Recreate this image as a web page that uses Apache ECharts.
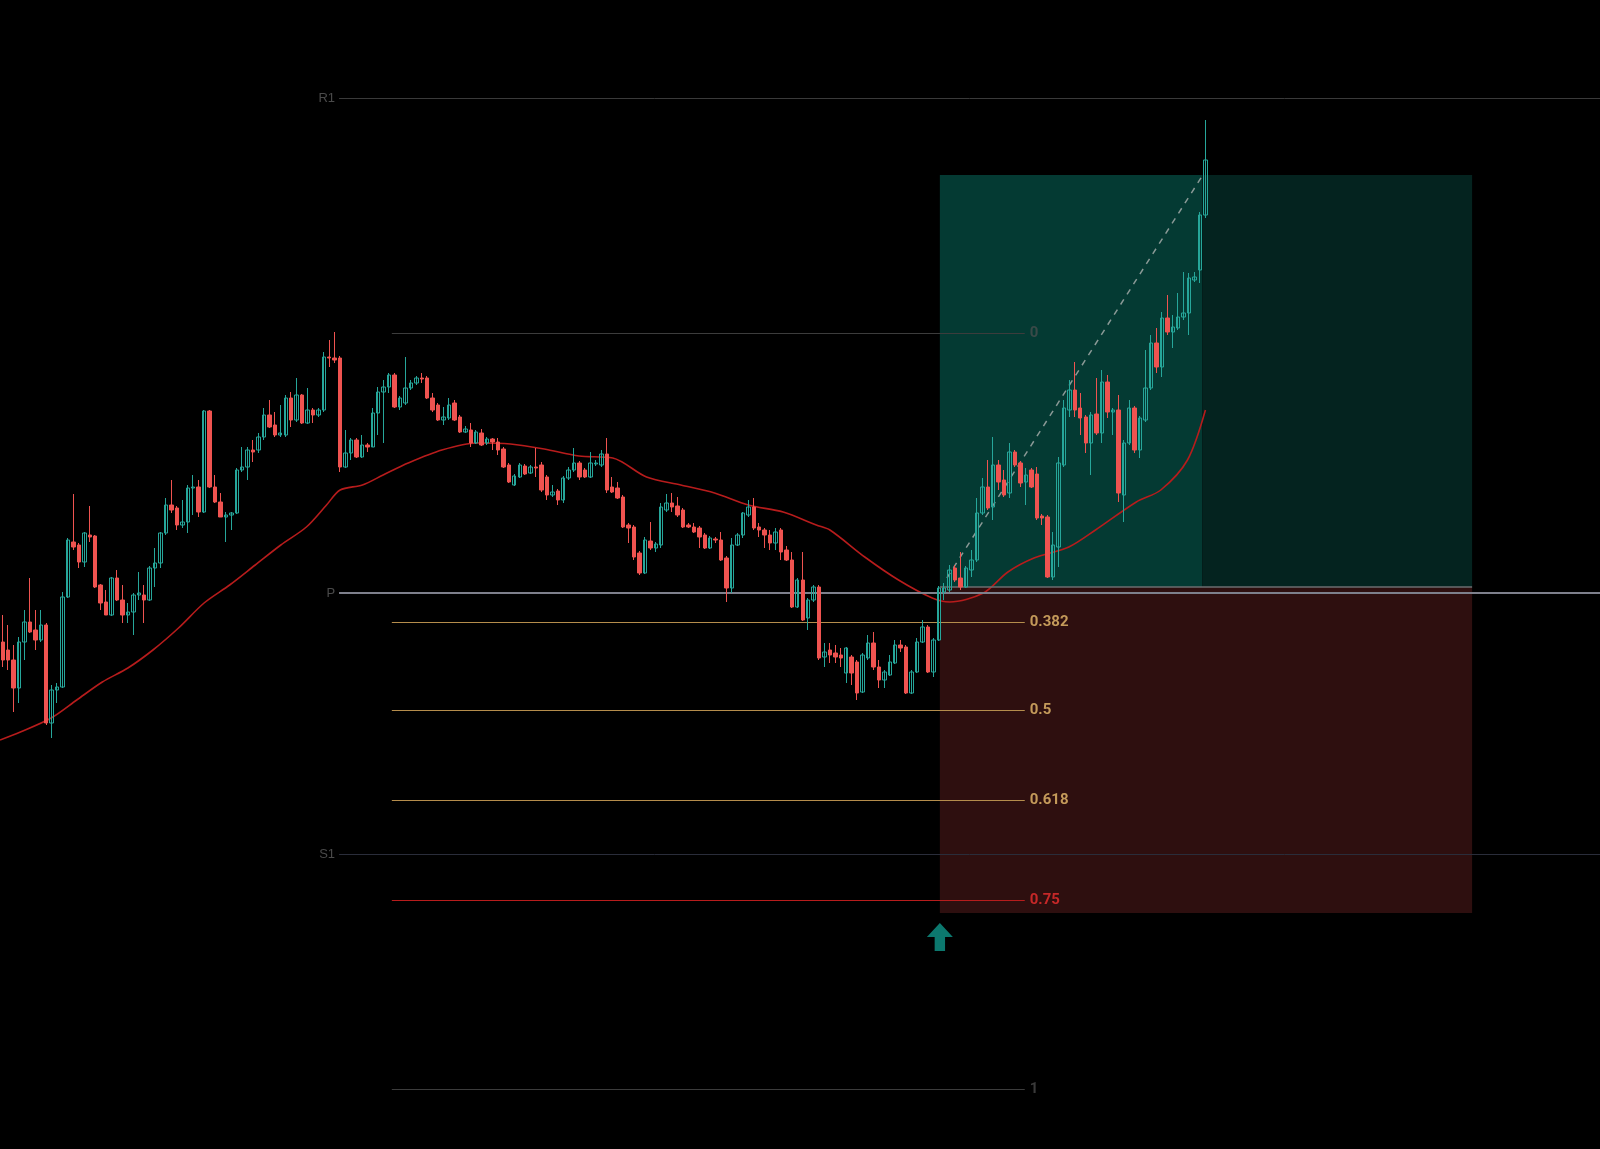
<!DOCTYPE html>
<html>
<head>
<meta charset="utf-8">
<title>Candles</title>
<script src="https://cdn.jsdelivr.net/npm/echarts@6/dist/echarts.min.js"></script>
<style>
  html, body { margin: 0; padding: 0; background: #000; }
  #chart { width: 1600px; height: 1149px; }
</style>
</head>
<body>
<div id="chart"></div>
<script>
// price levels are read in screen units of the reference (axis is inverted)
const slots = 294;
const categories = Array.from({ length: slots }, (_, i) => String(i));

// [open, close, low, high]
const candles = [
  [642,660,667,615],[650,660,670,625],[660,688,712,645],[688,642,703,637],[642,622,660,610],
  [622,632,633,578],[630,640,650,610],[640,625,642,610],[625,723,725,623],[723,690,738,685],
  [690,687,703,683],[687,597,688,592],[597,540,598,538],[542,547,550,494],[545,562,568,543],
  [562,533,567,532],[535,537,542,506],[536,587,588,535],[585,603,610,584],[602,615,615,590],
  [615,578,616,577],[578,600,601,570],[600,615,623,585],[615,612,623,603],[612,595,635,593],
  [595,593,600,572],[595,600,623,585],[600,568,601,566],[568,563,587,548],[563,533,568,532],
  [533,505,535,498],[505,510,513,480],[508,525,530,506],[525,522,528,500],[522,488,533,485],
  [488,487,515,475],[487,512,517,480],[512,411,513,410],[411,487,488,410],[487,502,503,475],
  [502,517,517,493],[517,515,542,512],[515,513,530,512],[513,470,514,468],[470,467,472,447],
  [467,450,480,447],[450,452,462,440],[450,437,453,433],[437,415,440,408],[415,427,428,400],
  [425,435,437,412],[435,433,437,405],[435,398,437,395],[398,420,427,392],[420,395,422,378],
  [395,423,424,394],[423,410,424,388],[410,415,423,408],[415,410,417,408],[410,357,412,352],
  [357,358,367,340],[358,360,363,332],[358,467,472,356],[467,453,468,430],[453,440,460,438],
  [440,457,458,438],[457,445,458,435],[445,447,452,443],[447,413,447,408],[413,392,435,387],
  [392,387,443,380],[387,375,393,373],[375,407,408,373],[407,398,410,396],[403,388,405,357],
  [388,383,390,380],[383,378,385,376],[378,379,383,373],[378,398,399,376],[398,410,412,393],
  [405,420,421,403],[420,417,425,407],[418,405,420,398],[403,420,421,400],[417,432,433,415],
  [432,429,433,426],[430,443,447,423],[443,432,444,430],[433,445,446,429],[443,439,445,437],
  [439,442,450,438],[442,450,455,438],[449,467,468,447],[465,482,483,463],[485,476,486,474],
  [477,465,478,463],[466,474,475,464],[473,467,474,465],[467,468,477,448],[465,490,492,462],
  [477,495,500,475],[495,492,497,485],[491,500,505,489],[500,478,503,476],[478,470,480,467],
  [470,463,472,448],[463,477,480,461],[470,477,478,468],[477,463,478,452],[464,463,466,460],
  [465,454,467,450],[454,490,493,438],[487,492,493,477],[488,498,499,482],[497,527,528,495],
  [525,528,543,523],[527,557,560,525],[553,573,575,551],[573,540,574,537],[541,548,550,522],
  [548,544,552,542],[545,507,548,503],[510,503,512,494],[503,507,512,493],[506,515,517,497],
  [510,527,528,508],[525,527,528,523],[527,532,533,523],[528,537,548,526],[535,548,549,533],
  [548,538,549,536],[539,540,543,537],[540,560,561,532],[558,588,602,556],[588,545,593,538],
  [545,535,546,533],[535,513,538,512],[515,507,517,500],[507,528,530,498],[527,530,537,523],
  [530,535,548,528],[535,543,550,530],[543,532,550,528],[530,552,560,528],[550,560,561,546],
  [560,607,608,552],[607,580,608,578],[580,620,621,552],[618,600,630,598],[600,587,602,585],
  [587,658,660,585],[657,652,667,643],[650,655,663,643],[653,657,663,645],[655,658,667,648],
  [673,648,683,647],[657,673,685,655],[662,693,700,660],[692,655,693,653],[658,643,660,635],
  [643,667,670,632],[667,680,688,660],[680,672,688,670],[675,662,676,655],[663,645,664,640],
  [645,648,652,640],[647,693,694,645],[693,672,694,670],[672,642,673,638],[642,627,643,620],
  [627,672,673,625],[672,640,677,638],[640,588,641,586],[592,588,600,583],[590,570,592,565],
  [568,580,582,565],[578,587,590,552],[587,568,588,566],[570,560,577,550],[560,513,562,498],
  [513,487,515,478],[487,508,510,460],[507,465,520,437],[465,482,490,460],[480,495,497,470],
  [493,452,498,443],[452,465,467,450],[463,483,487,461],[482,475,505,468],[470,487,488,468],
  [474,518,520,467],[516,518,525,514],[517,577,578,515],[577,545,580,532],[547,463,567,457],
  [465,408,467,400],[410,390,417,380],[390,410,417,362],[408,418,435,393],[417,443,453,415],
  [443,415,475,412],[414,433,435,378],[433,382,443,370],[382,412,418,375],[412,410,435,408],
  [410,493,502,395],[495,443,522,440],[443,408,445,400],[408,450,453,406],[450,418,458,416],
  [420,388,422,350],[388,343,390,335],[343,367,373,328],[367,318,377,312],[318,332,335,295],
  [332,327,348,315],[328,317,330,293],[317,313,320,272],[313,278,335,273],[280,277,282,272],
  [270,215,283,212],[215,160,218,120]
];

// moving average, [slot, level]
const maPoints = [
  [0,740],[3.75,732],[9.4,718],[14.1,700],[18.8,682],[23.5,668],[28.1,650],[32.8,628],
  [37.5,603],[42.2,585],[46.9,565],[51.6,545],[56.3,527],[60,505],[62.5,490],[66.6,485],
  [70.4,475],[75,463],[81.2,450],[87.6,443],[93.8,444],[100,449],[106.4,456],[112.6,458],
  [118.8,477],[125.1,485],[131.3,493],[137.5,505],[143.9,512],[150,525],[152.5,530],
  [158.9,557],[165.1,580],[171.3,598],[174.5,602],[180.7,593],[185.2,572],[190,558],
  [196.4,547],[201.3,530],[208.8,502],[213.3,490],[218.2,460],[221.5,410]
];

const pivotLevels = [['R1', 98], ['P', 593], ['S1', 854]];
const fibLevels = [['0', 333], ['0.382', 622], ['0.5', 710], ['0.618', 800], ['0.75', 900], ['1', 1089]];
const fibColors = { '0': '#3c3c3c', '0.382': '#b58d4c', '0.5': '#b58d4c', '0.618': '#b58d4c', '0.75': '#b71c1c', '1': '#3c3c3c' };
const fibLabelColors = { '0': '#3a4a48', '0.382': '#c49a5a', '0.5': '#c49a5a', '0.618': '#c49a5a', '0.75': '#c62828', '1': '#3a3a3a' };
const pivotColors = { R1: '#3a3a3a', P: '#7e808c', S1: '#2a2d3a' };

const zoneTop = 175, zoneMid = 587, zoneBottom = 913;
const zoneStart = 172.7, zoneSplit = 220.9, zoneEnd = 270.5;
const tradePath = [[174, 578], [220.9, 176]];
const entrySlot = 172.7, entryLevel = 937;

const chart = echarts.init(document.getElementById('chart'));

const pivotLines = pivotLevels.map(([name, y]) => [
  { coord: [62.3, y], lineStyle: { color: pivotColors[name], width: name === 'P' ? 2 : 1, type: 'solid' },
    label: { show: true, position: 'start', formatter: name, color: '#4a4a4a', fontSize: 13, distance: 4 } },
  { coord: [slots, y] }
]);

const fibLines = fibLevels.map(([name, y]) => [
  { coord: [72, y], lineStyle: { color: fibColors[name], width: 1.2, type: 'solid' },
    label: { show: true, position: 'end', formatter: name, color: fibLabelColors[name],
      fontSize: 15, fontWeight: 'bold', fontFamily: 'Roboto', distance: 5 } },
  { coord: [188.3, y] }
]);

chart.setOption({
  backgroundColor: '#000',
  animation: false,
  grid: { left: 0, right: 0, top: 0, bottom: 0 },
  xAxis: [
    { type: 'category', data: categories, show: false, boundaryGap: true },
    { type: 'value', min: 0, max: slots, show: false }
  ],
  yAxis: { type: 'value', inverse: true, min: 0, max: 1149, show: false, splitLine: { show: false } },
  series: [
    {
      type: 'line', xAxisIndex: 1, data: [], z: 1, silent: true,
      markArea: {
        silent: true,
        data: [
          [{ coord: [zoneStart, zoneTop], itemStyle: { color: '#043a33' } }, { coord: [zoneSplit, zoneMid] }],
          [{ coord: [zoneSplit, zoneTop], itemStyle: { color: '#04231f' } }, { coord: [zoneEnd, zoneMid] }],
          [{ coord: [zoneStart, zoneMid], itemStyle: { color: '#2e0f0f' } }, { coord: [zoneEnd, zoneBottom] }]
        ]
      },
      markLine: {
        silent: true, symbol: 'none',
        data: [...pivotLines, ...fibLines,
          [{ coord: [zoneStart, zoneMid], lineStyle: { color: '#6b6e70', width: 1.5, type: 'solid' }, label: { show: false } },
           { coord: [zoneEnd, zoneMid] }]
        ]
      }
    },
    {
      type: 'line', xAxisIndex: 1, data: tradePath, z: 2, silent: true, symbol: 'none',
      lineStyle: { color: '#8a9996', width: 1.5, type: [6, 6] }
    },
    {
      type: 'line', xAxisIndex: 1, data: maPoints, z: 3, silent: true, symbol: 'none', smooth: 0.3,
      lineStyle: { color: '#b71c1c', width: 1.6 }
    },
    {
      type: 'candlestick', data: candles, z: 5, barWidth: '72%',
      itemStyle: {
        color: '#ef5350', borderColor: '#ef5350',
        color0: 'rgba(0,0,0,0)', borderColor0: '#26a69a', borderWidth: 1
      }
    },
    {
      type: 'scatter', xAxisIndex: 1, data: [[entrySlot, entryLevel]], z: 6, silent: true,
      symbol: 'path://M5 0 L10 5 L7 5 L7 10 L3 10 L3 5 L0 5 Z', symbolSize: [26, 28],
      itemStyle: { color: '#0f968a' }
    }
  ]
});
</script>
</body>
</html>
